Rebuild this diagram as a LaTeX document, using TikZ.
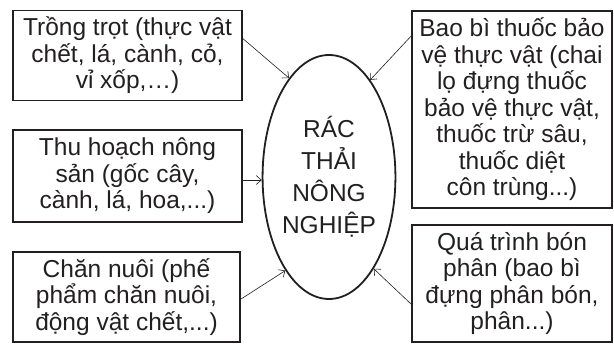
\documentclass[tikz,border=0pt]{standalone}
\usepackage{fontspec}
\setmainfont{Liberation Sans}
\usetikzlibrary{shapes.geometric,arrows.meta}
\definecolor{ink}{HTML}{231F20}
\begin{document}
\begin{tikzpicture}[x=1pt,y=-1pt,
  box/.style={draw=ink, line width=1.8pt, align=center, inner sep=0pt, text=ink,
    font=\fontsize{24.5}{26.5}\selectfont},
  oval/.style={draw=ink, ellipse, line width=1.8pt, align=center, inner sep=0pt, text=ink,
    minimum width=132pt, minimum height=244pt, font=\fontsize{24.5}{32}\selectfont},
  arr/.style={draw=ink, line width=0.6pt, -{Straight Barb[length=5pt,width=9pt]}}]
\useasboundingbox (0,0) rectangle (614,344);
\node[box, minimum width=229pt, minimum height=90pt] (b1) at (127.5,55.5)
  {Trồng trọt (thực vật\\chết, lá, cành, cỏ,\\vỉ xốp,…)};
\node[box, minimum width=229pt, minimum height=92pt] (b2) at (127.5,176)
  {Thu hoạch nông\\sản (gốc cây,\\cành, lá, hoa,...)};
\node[box, minimum width=227pt, minimum height=90pt] (b3) at (126.5,297)
  {Chăn nuôi (phế\\phẩm chăn nuôi,\\động vật chết,...)};
\node[box, minimum width=200pt, minimum height=197pt] (r1) at (512,109.5)
  {Bao bì thuốc bảo\\vệ thực vật (chai\\lọ đựng thuốc\\bảo vệ thực vật,\\thuốc trừ sâu,\\thuốc diệt\\côn trùng...)};
\node[box, minimum width=200pt, minimum height=117pt] (r2) at (512,283.5)
  {Quá trình bón\\phân (bao bì\\đựng phân bón,\\phân...)};
\node[oval] (ell) at (329,177) {RÁC\\THẢI\\NÔNG\\NGHIỆP};
\draw[arr] ([yshift=-29pt]b1.north east) -- (ell.112);
\draw[arr] ([yshift=-26pt]r1.north west) -- (ell.67);
\draw[arr] ([yshift=-4pt]b2.east) -- ([yshift=-4pt]b2.east -| ell.west);
\draw[arr] ([yshift=-48pt]b3.north east) -- (ell.245);
\draw[arr] ([yshift=-80pt]r2.north west) -- (ell.296);
\end{tikzpicture}
\end{document}
